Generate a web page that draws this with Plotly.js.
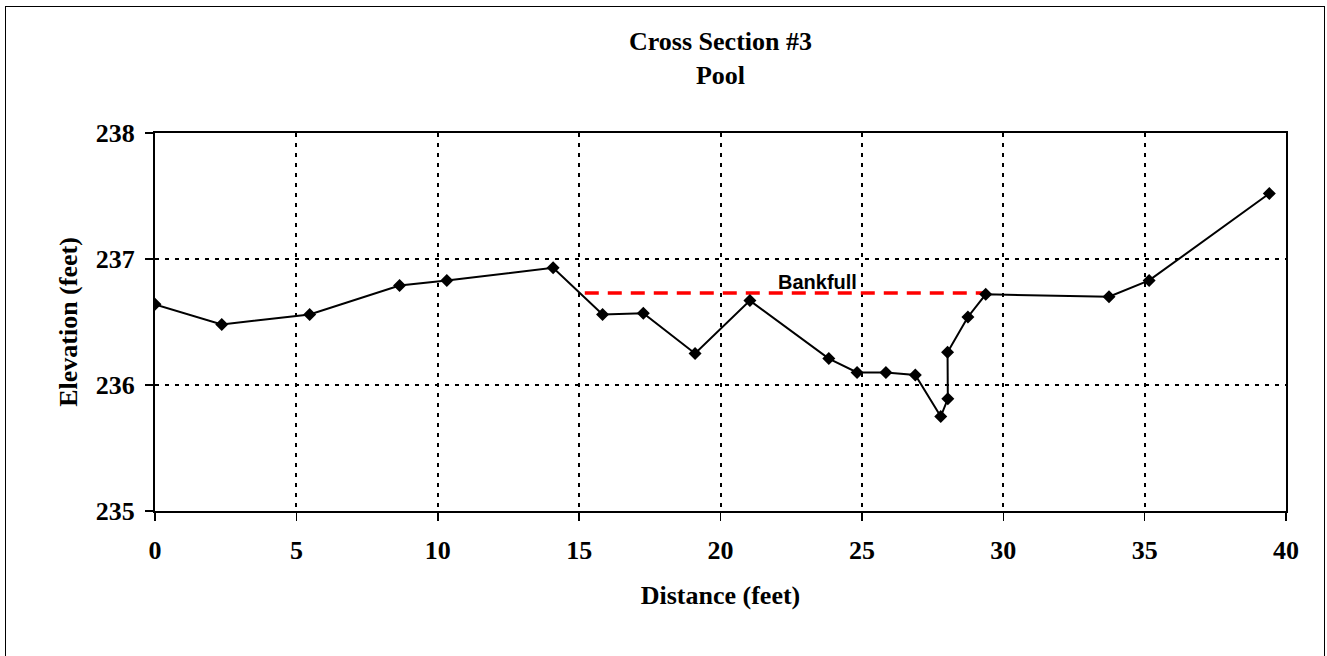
<!DOCTYPE html>
<html>
<head>
<meta charset="utf-8">
<script src="https://cdn.plot.ly/plotly-3.0.1.min.js"></script>
<style>
  html, body { margin: 0; padding: 0; background: #fff; }
  #wrap { position: relative; width: 1327px; height: 656px; overflow: hidden; }
  #chart { position: absolute; left: 0; top: 0; width: 1327px; height: 656px; }
  #frame { position: absolute; left: 5px; top: 6px; width: 1318px; height: 700px;
           border-left: 1.5px solid #000; border-top: 1.5px solid #000; border-right: 1.5px solid #000;
           pointer-events: none; }
</style>
</head>
<body>
<div id="wrap">
  <div id="chart"></div>
  <div id="frame"></div>
</div>
<script>
// Survey data: distance (feet) vs elevation (feet)
const distance = [0, 2.36, 5.47, 8.65, 10.32, 14.08, 15.83, 17.27, 19.10, 21.04, 23.83, 24.83, 25.85, 26.89, 27.79, 28.04, 28.03, 28.75, 29.38, 33.74, 35.16, 39.41];
const elevation = [236.64, 236.48, 236.56, 236.79, 236.83, 236.93, 236.56, 236.57, 236.25, 236.67, 236.21, 236.10, 236.10, 236.08, 235.75, 235.89, 236.26, 236.54, 236.72, 236.70, 236.83, 237.52];

// Bankfull line
const bankfullX = [15.2, 29.4];
const bankfullY = [236.73, 236.73];
const bankfullLabel = "Bankfull";

const titleLines = ["Cross Section #3", "Pool"];
const xTitle = "Distance (feet)";
const yTitle = "Elevation (feet)";
const xTicks = [0, 5, 10, 15, 20, 25, 30, 35, 40];
const yTicks = [235, 236, 237, 238];

const serif = "'Liberation Serif', 'Times New Roman', serif";

const traces = [
  {
    x: bankfullX, y: bankfullY, type: 'scatter', mode: 'lines',
    line: { color: '#FF0000', width: 3.5, dash: '14px,9px' },
    hoverinfo: 'skip', showlegend: false
  },
  {
    x: distance, y: elevation, type: 'scatter', mode: 'lines+markers',
    line: { color: '#000', width: 2 },
    marker: { symbol: 'diamond', size: 10, color: '#000' },
    showlegend: false
  }
];

const layout = {
  width: 1327, height: 656,
  margin: { l: 155, r: 41, t: 133, b: 145, pad: 0 },
  paper_bgcolor: '#fff', plot_bgcolor: '#fff',
  showlegend: false,
  title: {
    text: titleLines.join('<br>'),
    font: { family: serif, size: 26, color: '#000', weight: 'bold' },
    x: 0.5, xanchor: 'center', xref: 'paper',
    y: 1 - 50/656, yanchor: 'top'
  },
  xaxis: {
    range: [0, 40], tickvals: xTicks, ticktext: xTicks.map(String),
    showgrid: true, gridcolor: '#000', gridwidth: 2, griddash: '4px,6px',
    zeroline: false,
    showline: true, linecolor: '#000', linewidth: 2, mirror: true,
    ticks: 'outside', ticklen: 8, tickwidth: 1.5, tickcolor: '#000',
    ticklabelstandoff: 7,
    tickfont: { family: serif, size: 26, color: '#000', weight: 'bold' },
    title: { text: xTitle, standoff: 22, font: { family: serif, size: 26, color: '#000', weight: 'bold' } }
  },
  yaxis: {
    range: [235, 238], tickvals: yTicks, ticktext: yTicks.map(String),
    showgrid: true, gridcolor: '#000', gridwidth: 2, griddash: '4px,6px',
    zeroline: false,
    showline: true, linecolor: '#000', linewidth: 2, mirror: true,
    ticks: 'outside', ticklen: 8, tickwidth: 1.5, tickcolor: '#000',
    ticklabelstandoff: 5,
    tickfont: { family: serif, size: 26, color: '#000', weight: 'bold' },
    title: { text: yTitle, standoff: 11, font: { family: serif, size: 26, color: '#000', weight: 'bold' } }
  },
  annotations: [
    {
      x: (bankfullX[0] + bankfullX[1]) / 2 + 1.13, y: bankfullY[0], xref: 'x', yref: 'y',
      text: bankfullLabel, showarrow: false, xanchor: 'center', yanchor: 'bottom', yshift: -2,
      font: { family: "'Liberation Sans', Arial, sans-serif", size: 20, color: '#000', weight: 'bold' }
    }
  ]
};

Plotly.newPlot('chart', traces, layout, { staticPlot: true, displayModeBar: false });
</script>
</body>
</html>
